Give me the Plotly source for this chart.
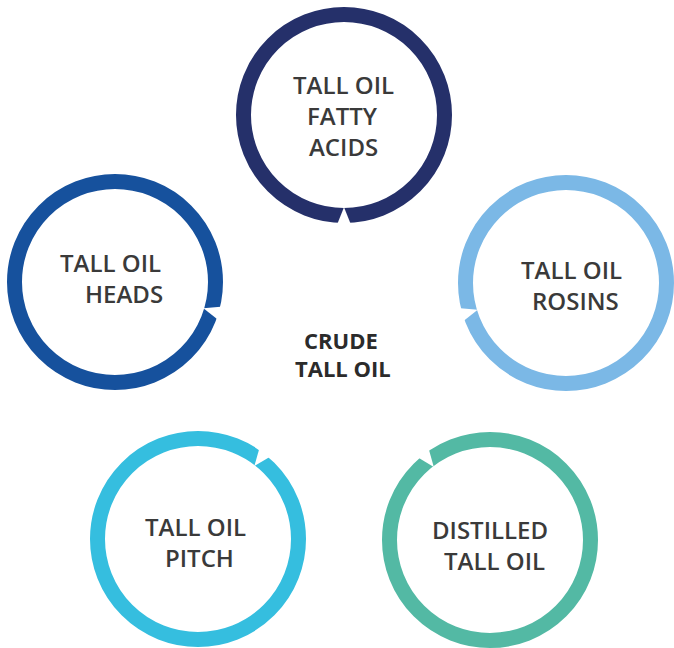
import math
import plotly.graph_objects as go

# ---- data ----
ring_labels = [
    ["TALL OIL", "FATTY", "ACIDS"],
    ["TALL OIL", "HEADS"],
    ["TALL OIL", "ROSINS"],
    ["TALL OIL", "PITCH"],
    ["DISTILLED", "TALL OIL"],
]
ring_colors = ["#25306a", "#16519d", "#7bb8e6", "#35bedf", "#53b9a4"]
center_label = ["CRUDE", "TALL OIL"]

# ---- layout (pixel coords) ----
W, H = 674, 648
centers = [(344, 115), (115, 282), (566, 283), (198, 539), (490, 540)]
text_dy = [0, -4, 2, 3, 5]
line_x = [
    [343, 342, 343],
    [110, 124],
    [571, 575],
    [195, 199],
    [490, 494],
]
hub = (344, 350)
R_OUT, R_IN = 108, 93
R_MID = (R_OUT + R_IN) / 2
LW = R_OUT - R_IN
LINE_H = 31

shapes = []
annotations = []
for i, (cx, cy) in enumerate(centers):
    shapes.append(dict(type="circle", xref="x", yref="y",
                       x0=cx - R_MID, x1=cx + R_MID, y0=cy - R_MID, y1=cy + R_MID,
                       line=dict(color=ring_colors[i], width=LW), fillcolor="rgba(0,0,0,0)"))
    dx, dy = hub[0] - cx, hub[1] - cy
    d = math.hypot(dx, dy)
    ux, uy = dx / d, dy / d
    vx, vy = -uy, ux
    bx, by = cx + (R_OUT + 3) * ux, cy + (R_OUT + 3) * uy
    hw = 7.5
    tx, ty = cx + (R_IN - 0.8) * ux, cy + (R_IN - 0.8) * uy
    path = (f"M {bx + hw*vx:.2f},{by + hw*vy:.2f} L {tx:.2f},{ty:.2f} "
            f"L {bx - hw*vx:.2f},{by - hw*vy:.2f} Z")
    shapes.append(dict(type="path", xref="x", yref="y", path=path,
                       fillcolor="white", line=dict(width=0)))
    n = len(ring_labels[i])
    for j, txt in enumerate(ring_labels[i]):
        y = cy + text_dy[i] + (j - (n - 1) / 2) * LINE_H
        annotations.append(dict(x=line_x[i][j], y=y, xref="x", yref="y", text=txt,
                                showarrow=False, xanchor="center", yanchor="middle",
                                font=dict(family="Open Sans", size=24, color="#3a3a3a", weight=600)))

for j, txt in enumerate(center_label):
    annotations.append(dict(x=[341, 343][j], y=[340, 368][j], xref="x", yref="y", text=txt,
                            showarrow=False, xanchor="center", yanchor="middle",
                            font=dict(family="Open Sans", size=22, color="#2b2b2b", weight="bold")))

fig = go.Figure()
fig.add_trace(go.Scatter(x=[0], y=[0], mode="markers", marker=dict(opacity=0),
                         hoverinfo="skip", showlegend=False))
fig.update_layout(
    width=W, height=H, autosize=False,
    margin=dict(l=0, r=0, t=0, b=0),
    paper_bgcolor="white", plot_bgcolor="white",
    xaxis=dict(range=[0, W], visible=False, fixedrange=True),
    yaxis=dict(range=[H, 0], visible=False, fixedrange=True),
    shapes=shapes, annotations=annotations,
    showlegend=False,
)
fig.write_html("out.html", config=dict(displayModeBar=False),
               post_script="document.body.style.margin='0';document.body.style.overflow='hidden';")
